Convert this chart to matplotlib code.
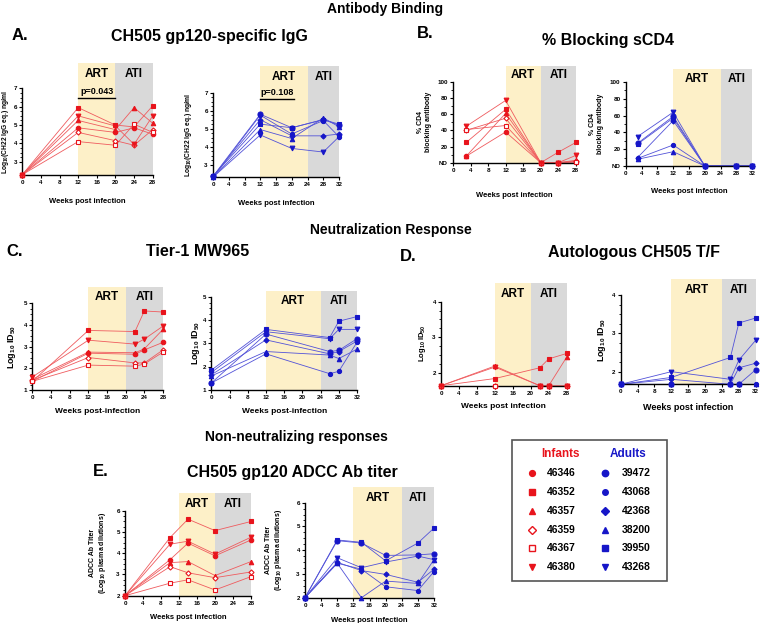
import numpy as np
import matplotlib.pyplot as plt
from matplotlib.patches import Rectangle
from matplotlib.ticker import FixedLocator
import matplotlib.transforms as mtransforms

plt.rcParams['font.family'] = ['Liberation Sans', 'DejaVu Sans']
plt.rcParams['font.weight'] = 'bold'
plt.rcParams['mathtext.fontset'] = 'custom'
plt.rcParams['mathtext.rm'] = 'Liberation Sans:bold'
plt.rcParams['mathtext.bf'] = 'Liberation Sans:bold'
plt.rcParams['mathtext.default'] = 'bf'

RED = '#e8141c'
RED_LINE = '#ef5b5e'
BLUE = '#1616c8'
BLUE_LINE = '#5252d8'
ART_COLOR = '#fdf0c8'
ATI_COLOR = '#d9d9d9'

# ids and marker styles
infant_ids = ['46346', '46352', '46357', '46359', '46367', '46380']
adult_ids = ['39472', '43068', '42368', '38200', '39950', '43268']
infant_markers = ['o', 's', '^', 'D', 's', 'v']
infant_filled = [True, True, True, False, False, True]
infant_sizes = [3.2, 3.2, 3.2, 2.6, 3.4, 3.4]
adult_markers = ['o', 'o', 'D', '^', 's', 'v']
adult_filled = [True] * 6
adult_sizes = [3.6, 3.0, 2.6, 3.2, 3.4, 3.4]

# A. gp120-specific IgG (log10 ng/ml)
weeks_igg_inf = [0, 12, 20, 24, 28]
igg_inf = [[2.30, 4.85, 4.60, 4.85, 4.50],
           [2.30, 5.95, 5.00, 4.90, 6.05],
           [2.30, 5.25, 4.75, 5.95, 5.10],
           [2.30, 4.60, 4.15, 3.90, 4.75],
           [2.30, 4.10, 3.90, 5.05, 4.60],
           [2.30, 5.50, 4.95, 3.95, 5.50]]
weeks_igg_adu = [0, 12, 20, 28, 32]
igg_adu = [[2.35, 5.80, 5.05, 5.50, 5.20],
           [2.30, 5.75, 4.70, 5.45, 4.55],
           [2.35, 5.50, 4.60, 4.60, 4.70],
           [2.30, 4.95, 4.45, 5.60, 5.10],
           [2.35, 5.25, 5.05, 5.50, 5.25],
           [2.30, 4.65, 3.90, 3.70, 4.55]]

# B. % CD4 blocking antibody (0 = ND)
weeks_blk_inf = [3, 12, 20, 24, 28]
blk_inf = [[8, 38, 0, 0, 1],
           [25, 66, 0, 13, 25],
           [8, 61, 0, 0, 3],
           [40, 55, 0, 0, 2],
           [41, 46, 0, 0, 1],
           [45, 77, 0, 0, 9]]
weeks_blk_adu = [3, 12, 20, 28, 32]
blk_adu = [[27, 59, 0, 0, 0],
           [9, 25, 0, 0, 0],
           [10, 54, 0, 0, 0],
           [8, 17, 0, 0, 0],
           [26, 57, 0, 0, 0],
           [35, 64, 0, 0, 0]]

# C. Tier-1 MW965 (log10 ID50)
weeks_t1_inf = [0, 12, 22, 24, 28]
t1_inf = [[1.40, 2.70, 2.65, 2.85, 3.20],
          [1.40, 3.75, 3.70, 4.65, 4.60],
          [1.50, 2.75, 2.72, 2.90, 3.80],
          [1.45, 2.50, 2.25, 2.25, 2.85],
          [1.40, 2.15, 2.10, 2.20, 2.75],
          [1.60, 3.30, 3.12, 3.35, 3.95]]
weeks_t1_adu = [0, 12, 26, 28, 32]
t1_adu = [[1.30, 3.40, 2.65, 2.70, 3.20],
          [1.30, 2.55, 1.70, 1.80, 3.05],
          [1.65, 3.15, 2.55, 2.65, 3.10],
          [1.60, 2.65, 2.50, 2.35, 2.75],
          [1.85, 3.60, 3.25, 3.95, 4.15],
          [1.75, 3.50, 3.20, 3.60, 3.60]]

# D. Autologous CH505 T/F (log10 ID50)
weeks_tf_inf = [0, 12, 22, 24, 28]
tf_inf = [[1.65, 1.65, 1.65, 1.65, 1.65],
          [1.65, 1.85, 2.15, 2.40, 2.55],
          [1.65, 2.20, 1.65, 1.65, 2.45],
          [1.65, 1.65, 1.65, 1.65, 1.65],
          [1.65, 1.65, 1.65, 1.65, 1.65],
          [1.65, 2.17, 1.65, 1.65, 1.65]]
weeks_tf_adu = [0, 12, 26, 28, 32]
tf_adu = [[1.67, 1.67, 1.67, 1.67, 2.05],
          [1.67, 1.67, 1.67, 1.67, 1.67],
          [1.67, 1.80, 1.67, 2.10, 2.22],
          [1.67, 1.67, 1.67, 1.67, 1.67],
          [1.67, 1.85, 2.37, 3.27, 3.40],
          [1.67, 2.00, 1.80, 2.30, 2.82]]

# E. ADCC Ab titer (log10 plasma dilutions)
weeks_adcc_inf = [0, 10, 14, 20, 28]
adcc_inf = [[2.0, 3.70, 4.48, 3.88, 4.63],
            [2.0, 4.74, 5.61, 5.07, 5.50],
            [2.0, 3.56, 3.61, 2.95, 3.61],
            [2.0, 3.37, 3.08, 2.85, 3.12],
            [2.0, 2.59, 2.75, 2.27, 2.90],
            [2.0, 4.43, 4.57, 3.96, 4.76]]
weeks_adcc_adu = [0, 8, 14, 20, 28, 32]
adcc_adu = [[2.0, 4.40, 4.30, 3.78, 3.80, 3.85],
            [2.0, 3.45, 3.20, 2.46, 2.30, 3.10],
            [2.0, 3.49, 3.14, 2.98, 2.65, 3.20],
            [2.0, 3.45, 2.00, 2.70, 2.60, 3.60],
            [2.0, 4.43, 4.33, 3.55, 4.30, 4.93],
            [2.0, 3.68, 3.26, 3.50, 3.75, 3.60]]

W, H = 760, 623
fig = plt.figure(figsize=(W / 100, H / 100), dpi=100)


def add_axes_px(x0, x1, ytop, ybot):
    return fig.add_axes([x0 / W, 1 - ybot / H, (x1 - x0) / W, (ybot - ytop) / H])


def draw_panel(box, weeks, values, infants, xmax, art_end, ylim, y_top, yticks, ylabel,
               xlabel, ylabel_px, xlabel_px, yticklabels=None, minor_step=None,
               ylabel_size=5, xlabel_size=5.5):
    x0, x1, ytop, ybot = box
    ax = add_axes_px(*box)
    ax.axvspan(12, art_end, color=ART_COLOR, lw=0, zorder=0)
    ax.axvspan(art_end, xmax, color=ATI_COLOR, lw=0, zorder=0)
    if infants:
        markers, filled, sizes, mcol, lcol = infant_markers, infant_filled, infant_sizes, RED, RED_LINE
    else:
        markers, filled, sizes, mcol, lcol = adult_markers, adult_filled, adult_sizes, BLUE, BLUE_LINE
    for vals, m, f, s in zip(values, markers, filled, sizes):
        ax.plot(weeks, vals, color=lcol, lw=0.6, zorder=2, clip_on=False)
        ax.plot(weeks, vals, ls='none', marker=m, ms=s, mfc=mcol if f else 'white',
                mec=mcol, mew=0.8, zorder=3, clip_on=False)
    ax.set_xlim(0, xmax)
    ax.set_ylim(*ylim)
    for side in ['top', 'right']:
        ax.spines[side].set_visible(False)
    for side in ['left', 'bottom']:
        ax.spines[side].set_linewidth(1.0)
    ax.spines['left'].set_bounds(ylim[0], y_top)
    ax.set_xticks(np.arange(0, xmax + 1, 4))
    ax.set_yticks(yticks)
    if yticklabels is not None:
        ax.set_yticklabels(yticklabels)
    if minor_step:
        ax.yaxis.set_minor_locator(FixedLocator(np.arange(yticks[0], y_top, minor_step)))
    ax.tick_params(which='major', length=2.5, width=0.8, labelsize=4.5, pad=1.2)
    ax.tick_params(which='minor', length=1.5, width=0.6)
    for lab in ax.get_xticklabels() + ax.get_yticklabels():
        lab.set_fontweight('bold')
    trans = mtransforms.blended_transform_factory(ax.transData, ax.transAxes)
    ax.text((12 + art_end) / 2, 0.9, 'ART', transform=trans, ha='center', va='center',
            fontsize=8.5, fontweight='bold')
    ax.text((art_end + xmax) / 2, 0.9, 'ATI', transform=trans, ha='center', va='center',
            fontsize=8.5, fontweight='bold')
    ax.set_ylabel(ylabel, fontsize=ylabel_size, fontweight='bold', linespacing=1.1)
    spine_mid = (y_top - ylim[0]) / (ylim[1] - ylim[0]) / 2
    ax.yaxis.set_label_coords((ylabel_px - x0) / (x1 - x0), spine_mid)
    ax.set_xlabel(xlabel, fontsize=xlabel_size, fontweight='bold')
    ax.xaxis.set_label_coords(0.5, (ybot - xlabel_px) / (ybot - ytop))
    return ax


igg_label = 'Log$_{10}$(CH22 IgG eq.) ng/ml'
blk_label = '% CD4\nblocking antibody'
id_label = 'Log$_{10}$ ID$_{50}$'
adcc_label = 'ADCC Ab Titer\n(Log$_{10}$ plasma dilutions)'

# A
ax = draw_panel((22.3, 152.7, 63, 175), weeks_igg_inf, igg_inf, True, 28, 20, (2.28, 8.38), 7,
                [3, 4, 5, 6, 7], igg_label, 'Weeks post infection', 11, 198, minor_step=0.25,
                ylabel_size=4.8)
ax.plot([12, 20], [6.47, 6.47], color='black', lw=1.0, zorder=4)
ax.text(16, 6.85, 'p=0.043', ha='center', va='center', fontsize=6.5, fontweight='bold')
ax = draw_panel((213, 339, 66, 176.7), weeks_igg_adu, igg_adu, False, 32, 24, (2.33, 8.48), 7,
                [3, 4, 5, 6, 7], igg_label, 'Weeks post infection', 194, 200, minor_step=0.25,
                ylabel_size=4.8)
ax.plot([12, 20.5], [6.65, 6.65], color='black', lw=1.0, zorder=4)
ax.text(16.25, 7.02, 'p=0.108', ha='center', va='center', fontsize=6.5, fontweight='bold')

# B
blk_ticks = [0, 20, 40, 60, 80, 100]
blk_ticklabels = ['ND', '20', '40', '60', '80', '100']
draw_panel((453, 575.8, 65.7, 162.7), weeks_blk_inf, blk_inf, True, 28, 20, (0, 120), 100,
           blk_ticks, blk_label, 'Weeks post infection', 432, 191.7, yticklabels=blk_ticklabels,
           minor_step=10)
draw_panel((625.7, 752.3, 69.3, 166), weeks_blk_adu, blk_adu, False, 32, 24, (0, 115), 100,
           blk_ticks, blk_label, 'Weeks post infection', 603.5, 188.3, yticklabels=blk_ticklabels,
           minor_step=10)

# C
draw_panel((32.3, 163, 286.7, 390), weeks_t1_inf, t1_inf, True, 28, 20, (1, 5.77), 5,
           [1, 2, 3, 4, 5], id_label, 'Weeks post-infection', 18, 408, minor_step=0.25,
           ylabel_size=6.5, xlabel_size=6)
draw_panel((211.3, 357, 290.7, 390), weeks_t1_adu, t1_adu, False, 32, 24, (1, 5.26), 5,
           [1, 2, 3, 4, 5], id_label, 'Weeks post-infection', 201.7, 408, minor_step=0.25,
           ylabel_size=6.5, xlabel_size=6)

# D
draw_panel((441, 566.7, 283.3, 385.7), weeks_tf_inf, tf_inf, True, 28, 20, (1.65, 4.51), 4,
           [2, 3, 4], id_label, 'Weeks post infection', 427.7, 403, minor_step=0.25,
           ylabel_size=5.5, xlabel_size=6)
draw_panel((620.7, 755.7, 279.3, 384.3), weeks_tf_adu, tf_adu, False, 32, 24, (1.67, 4.41), 4,
           [2, 3, 4], id_label, 'Weeks post infection', 608, 403.3, minor_step=0.25,
           ylabel_size=6.5, xlabel_size=6.5)

# E
draw_panel((125, 251, 493.3, 595.7), weeks_adcc_inf, adcc_inf, True, 28, 20, (2, 6.83), 6,
           [2, 3, 4, 5, 6], adcc_label, 'Weeks post infection', 107.5, 614, minor_step=0.25)
draw_panel((305, 434, 486.7, 597.7), weeks_adcc_adu, adcc_adu, False, 32, 24, (2, 6.67), 6,
           [2, 3, 4, 5, 6], adcc_label, 'Weeks post infection', 284, 617, minor_step=0.25)

# titles
def fig_text(x, y, s, size, **kw):
    fig.text(x / W, 1 - y / H, s, fontsize=size, fontweight='bold', ha='center', va='center', **kw)


fig_text(385, 9, 'Antibody Binding', 10)
fig_text(20, 36, 'A.', 12)
fig_text(209, 36, 'CH505 gp120-specific IgG', 11.5)
fig_text(425, 34, 'B.', 12)
fig_text(608, 40, '% Blocking sCD4', 11.5)
fig_text(391, 230, 'Neutralization Response', 10)
fig_text(15, 252, 'C.', 12)
fig_text(198, 252, 'Tier-1 MW965', 11.5)
fig_text(408, 256, 'D.', 12)
fig_text(634, 253, 'Autologous CH505 T/F', 11.5)
fig_text(296, 437, 'Non-neutralizing responses', 10)
fig_text(101, 472, 'E.', 12)
fig_text(292, 472, 'CH505 gp120 ADCC Ab titer', 11.5)

# legend box
lx0, lx1, ly0, ly1 = 512, 667, 440, 581
fig.add_artist(Rectangle((lx0 / W, 1 - ly1 / H), (lx1 - lx0) / W, (ly1 - ly0) / H,
                         transform=fig.transFigure, fill=False, ec='#555555', lw=1.2))
lax = add_axes_px(lx0, lx1, ly0, ly1)
lax.set_xlim(lx0, lx1)
lax.set_ylim(ly1, ly0)
lax.axis('off')
lax.text(560, 454, 'Infants', color=RED, fontsize=8.5, fontweight='bold', ha='center', va='center')
lax.text(628, 454, 'Adults', color=BLUE, fontsize=8.5, fontweight='bold', ha='center', va='center')
for i in range(6):
    row_y = 473.3 + i * 18.75
    lax.plot(531.7, row_y, marker=infant_markers[i], ms=infant_sizes[i] + 1,
             mfc=RED if infant_filled[i] else 'white', mec=RED, mew=1.0, ls='none')
    lax.text(547, row_y, infant_ids[i], fontsize=7.5, fontweight='bold', va='center')
    lax.plot(605, row_y, marker=adult_markers[i], ms=adult_sizes[i] + 1,
             mfc=BLUE, mec=BLUE, ls='none')
    lax.text(621.7, row_y, adult_ids[i], fontsize=7.5, fontweight='bold', va='center')

fig.savefig('out.png', dpi=100)
